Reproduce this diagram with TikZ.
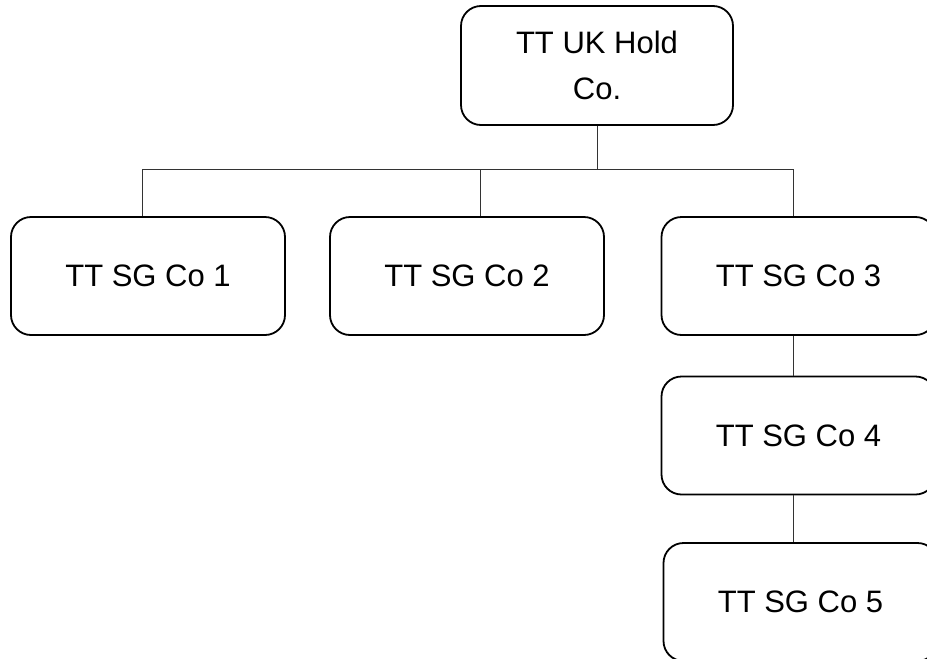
\documentclass[tikz,border=0pt]{standalone}
\usepackage{fontspec}
\setmainfont{Liberation Sans}
\begin{document}
\begin{tikzpicture}[x=1pt,y=-1pt]
		\tikzstyle{societe}=[draw,line width=1.8pt,rounded corners=20pt,minimum width=274pt,minimum height=118pt,align=center,font=\fontsize{31}{46}\selectfont,inner sep=0pt]
		\tikzstyle{lien}=[line width=1pt,draw=black!80]
		
		\useasboundingbox (0,0) rectangle (927,659);
		\clip (0,0) rectangle (927,659);
		
		\node[societe,minimum width=272pt,minimum height=119pt] (holdco) at (597,65.5) {TT UK Hold\\Co.};
		\node[societe] (sgA) at (148,276) {TT SG Co 1};
		\node[societe] (sgB) at (467,276) {TT SG Co 2};
		\node[societe] (sgC) at (798.5,276) {TT SG Co 3};
		\node[societe] (sgD) at (798.5,435.5) {TT SG Co 4};
		\node[societe] (sgE) at (800.5,602) {TT SG Co 5};
		
		\coordinate (busA) at (142,169);
		\coordinate (busB) at (480,169);
		\coordinate (busC) at (793,169);
		
		\draw[lien] (holdco.south) -- (holdco.south |- busA);
		\draw[lien] (busA) -- (busC);
		\draw[lien] (busA) -- (busA |- sgA.north);
		\draw[lien] (busB) -- (busB |- sgB.north);
		\draw[lien] (busC) -- (busC |- sgC.north);
		\draw[lien] (sgC.south -| busC) -- (sgD.north -| busC);
		\draw[lien] (sgD.south -| busC) -- (sgE.north -| busC);
		\end{tikzpicture}
\end{document}
